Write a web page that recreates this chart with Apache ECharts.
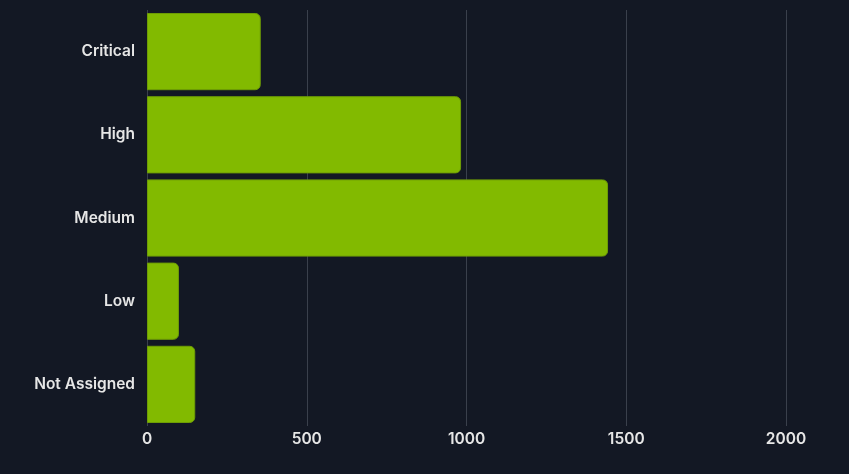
<!DOCTYPE html>
<html><head><meta charset="utf-8">
<script src="https://cdn.jsdelivr.net/npm/echarts@6/dist/echarts.min.js"></script>
<style>html,body{margin:0;padding:0;background:#131824;}#c{width:849px;height:474px;}</style>
</head><body><div id="c"></div>
<script>
var categories = ["Critical", "High", "Medium", "Low", "Not Assigned"];
var values = [356, 983, 1443, 100, 151];
var xTicks = [0, 500, 1000, 1500, 2000];

var chart = echarts.init(document.getElementById('c'));
chart.setOption({
  backgroundColor: '#131824',
  animation: false,
  grid: {left: 147, right: 63, top: 10, bottom: 48, containLabel: false},
  xAxis: {
    type: 'value', min: xTicks[0], max: xTicks[xTicks.length-1], interval: 500,
    axisLine: {show: false}, axisTick: {show: false},
    splitLine: {show: true, lineStyle: {color: '#3a404c', width: 1}},
    axisLabel: {color: '#e6e6e6', fontFamily: 'Inter', fontWeight: 600, fontSize: 15.5, margin: 5,
      formatter: function (v) { return String(v); }}
  },
  yAxis: {
    type: 'category', data: categories, inverse: true,
    axisLine: {show: false}, axisTick: {show: false},
    axisLabel: {color: '#e6e6e6', fontFamily: 'Inter', fontWeight: 600, fontSize: 15.5, margin: 12}
  },
  series: [{
    type: 'bar', data: values, barCategoryGap: '7.2%',
    itemStyle: {color: '#82ba00', borderColor: '#6e9d05', borderWidth: 1, borderRadius: [0, 5, 5, 0]}
  }]
});
</script></body></html>
